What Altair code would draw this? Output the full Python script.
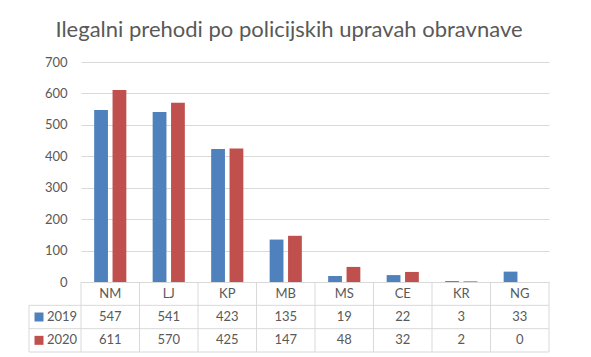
import altair as alt
import pandas as pd

categories = ["NM", "LJ", "KP", "MB", "MS", "CE", "KR", "NG"]
years = ["2019", "2020"]
values_2019 = [547, 541, 423, 135, 19, 22, 3, 33]
values_2020 = [611, 570, 425, 147, 48, 32, 2, 0]
colors = ["#4F81BD", "#C0504D"]
y_ticks = [0, 100, 200, 300, 400, 500, 600, 700]
title_text = "Ilegalni prehodi po policijskih upravah obravnave"

W = 468
H_TOP = 220
H_TAB = 70
LEG = 52
FONT = "Lato"
TXT = "#595959"
GRID = "#D9D9D9"

bar_rows = []
for c, a, b in zip(categories, values_2019, values_2020):
    bar_rows.append({"cat": c, "year": "2019", "value": a})
    bar_rows.append({"cat": c, "year": "2020", "value": b})
bar_df = pd.DataFrame(bar_rows)

tab_rows = ["cat", "2019", "2020"]
table_rows = []
for c, a, b in zip(categories, values_2019, values_2020):
    table_rows.append({"cat": c, "row": "cat", "label": c})
    table_rows.append({"cat": c, "row": "2019", "label": str(a)})
    table_rows.append({"cat": c, "row": "2020", "label": str(b)})
table_df = pd.DataFrame(table_rows)

color = alt.Color("year:N", scale=alt.Scale(domain=years, range=colors), legend=None)

bars = alt.Chart(bar_df).mark_bar().encode(
    x=alt.X("cat:N", sort=categories,
            scale=alt.Scale(domain=categories, paddingInner=0.45, paddingOuter=0.225),
            axis=alt.Axis(labels=False, ticks=False, title=None, domain=True,
                          domainColor=GRID, domainWidth=1)),
    xOffset=alt.XOffset("year:N", sort=years, scale=alt.Scale(domain=years, paddingInner=0.25)),
    y=alt.Y("value:Q", scale=alt.Scale(domain=[0, 700]),
            axis=alt.Axis(values=y_ticks, title=None, domain=False, ticks=False,
                          gridColor=GRID, labelPadding=14, labelFontSize=13,
                          labelColor=TXT, labelFont=FONT)),
    color=color,
).properties(width=W, height=H_TOP)

xs = alt.Scale(domain=categories, paddingInner=0, paddingOuter=0)
ys = alt.Scale(domain=tab_rows, paddingInner=0, paddingOuter=0)

text = alt.Chart(table_df).mark_text(font=FONT, fontSize=13, color=TXT).encode(
    x=alt.X("cat:N", sort=categories, scale=xs, axis=None),
    y=alt.Y("row:N", sort=tab_rows, scale=ys, axis=None),
    text="label:N",
)

cat_df = pd.DataFrame({"cat": categories})
vlines = alt.Chart(cat_df).mark_rule(color=GRID).encode(
    x=alt.X("cat:N", sort=categories, scale=xs, axis=None, bandPosition=0),
    y=alt.value(0), y2=alt.value(H_TAB),
)
right_border = alt.Chart(pd.DataFrame({"k": [0]})).mark_rule(color=GRID).encode(
    x=alt.value(W), y=alt.value(0), y2=alt.value(H_TAB),
)

hl_df = pd.DataFrame({"row": ["2019", "2020"]})
hlines = alt.Chart(hl_df).mark_rule(color=GRID).encode(
    y=alt.Y("row:N", sort=tab_rows, scale=ys, axis=None, bandPosition=0),
    x=alt.value(-LEG), x2=alt.value(W),
)
bottom_border = alt.Chart(pd.DataFrame({"k": [0]})).mark_rule(color=GRID).encode(
    y=alt.value(H_TAB), x=alt.value(-LEG), x2=alt.value(W),
)
left_border = alt.Chart(pd.DataFrame({"row": ["2019"]})).mark_rule(color=GRID).encode(
    y=alt.Y("row:N", sort=tab_rows, scale=ys, axis=None, bandPosition=0),
    y2=alt.value(H_TAB), x=alt.value(-LEG),
)

leg_df = pd.DataFrame({"row": years, "year": years})
squares = alt.Chart(leg_df).mark_square(size=81, opacity=1).encode(
    y=alt.Y("row:N", sort=tab_rows, scale=ys, axis=None),
    x=alt.value(-42),
    color=color,
)
leg_text = alt.Chart(leg_df).mark_text(font=FONT, fontSize=13, color=TXT, align="left").encode(
    y=alt.Y("row:N", sort=tab_rows, scale=ys, axis=None),
    x=alt.value(-34),
    text="year:N",
)

table = alt.layer(vlines, right_border, hlines, bottom_border, left_border,
                  squares, leg_text, text).properties(width=W, height=H_TAB)

chart = alt.vconcat(bars, table, spacing=0, bounds="flush").resolve_scale(
    x="independent", y="independent", color="shared"
).properties(
    title=alt.TitleParams(title_text, font=FONT, fontSize=22, fontWeight="normal",
                          color=TXT, anchor="middle", offset=14),
    padding={"left": 20, "top": 11, "right": 10, "bottom": 0},
).configure_view(stroke=None)

chart.save("out.html", embed_options={"renderer": "svg", "actions": False})
